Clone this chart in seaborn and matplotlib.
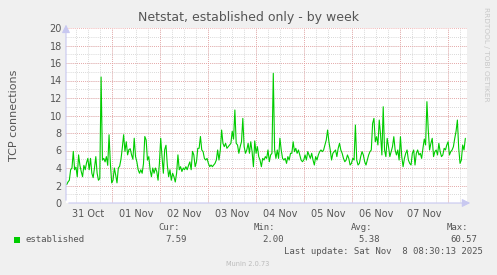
import matplotlib
matplotlib.use("Agg")
import matplotlib.pyplot as plt
import matplotlib.dates as mdates
import seaborn as sns
import pandas as pd
import numpy as np

# ---------------- data ----------------
title = "Netstat, established only - by week"
ylabel = "TCP connections"
series_name = "established"
start_time = "2025-10-31 01:20"
end_time = "2025-11-08 08:40"
view_start = "2025-10-31 01:00"
view_end = "2025-11-08 09:30"
day_labels = ["31 Oct", "01 Nov", "02 Nov", "03 Nov", "04 Nov", "05 Nov", "06 Nov", "07 Nov"]
y_ticks = [0, 2, 4, 6, 8, 10, 12, 14, 16, 18, 20]
stat_names = ["Cur:", "Min:", "Avg:", "Max:"]
stat_values = ["7.59", "2.00", "5.38", "60.57"]
last_update = "Last update: Sat Nov  8 08:30:13 2025"
footer = "Munin 2.0.73"
side_text = "RRDTOOL / TOBI OETIKER"

established = [
    # 31 Oct
    2.1, 2.4, 2.6, 3.8, 4.0, 5.9, 3.8, 4.1, 3.0, 5.5, 4.3, 3.6, 3.0, 4.3, 3.8, 4.6, 5.1, 3.8, 5.1, 3.4,
    2.9, 4.0, 5.3, 3.4, 2.6, 2.8, 14.4, 4.9, 5.1, 4.7, 5.3, 4.3, 7.8, 4.5, 2.3, 2.6, 4.0, 3.2, 2.3, 4.0,
    4.2, 5.0, 6.3, 7.8, 5.9, 7.0, 5.5, 6.1, 6.2, 5.5,
    # 01 Nov
    5.0, 7.4, 5.3, 4.7, 3.8, 3.4, 3.8, 3.4, 4.5, 7.6, 7.2, 4.9, 5.3, 3.8, 3.0, 4.0, 3.4, 4.0, 3.6, 2.6,
    4.5, 7.4, 5.3, 3.4, 6.1, 6.6, 4.3, 3.0, 3.8, 2.6, 3.4, 3.0, 2.4, 3.4, 5.5, 3.8, 4.15, 3.6, 4.0, 3.8,
    4.15, 3.8, 4.3, 4.7, 3.8, 5.9, 5.5, 4.15, 4.7, 6.25,
    # 02-03 Nov
    6.25, 7.6, 6.06, 5.87, 5.1, 4.91, 5.1, 4.53, 4.15, 4.34, 4.15, 4.34, 4.53, 4.91, 6.06, 4.91, 6.06, 8.34,
    6.82, 6.44, 6.82, 6.25, 6.44, 6.63, 6.82, 8.2, 7.3, 10.63, 6.82, 6.63, 5.68, 6.44, 7.0, 9.67, 6.44, 5.68,
    6.06, 6.82, 5.68, 7.0, 5.87, 4.15, 7.1, 5.68, 6.44, 5.3, 4.91, 4.15, 5.1, 4.91, 5.3,
    # 04 Nov
    5.1, 6.06, 4.72, 5.49, 5.68, 14.82, 6.06, 5.1, 6.06, 5.1, 7.4, 6.06, 5.1, 4.91, 5.1, 4.53, 5.3, 4.91,
    5.68, 5.68, 7.0, 5.87, 6.25, 5.68, 6.06, 5.49, 4.91, 4.72, 4.91, 5.49, 4.91, 5.87, 5.49, 5.1, 5.68, 4.91,
    4.34, 5.3, 4.91, 5.49, 5.87, 6.06, 5.87, 6.06, 6.63, 7.2, 8.34, 7.0, 6.06, 4.91, 5.68, 5.87, 6.06,
    # 05-06 Nov
    5.3, 6.25, 6.82, 6.06, 5.68, 5.1, 4.72, 4.91, 5.49, 5.1, 4.34, 4.53, 5.1, 4.91, 8.91, 4.91, 4.34, 4.53,
    5.3, 5.87, 5.49, 4.72, 4.34, 4.91, 5.49, 5.87, 6.06, 9.1, 9.67, 7.0, 7.58, 6.63, 9.48, 7.77, 5.49, 11.0,
    6.06, 5.3, 7.39, 6.44, 5.3, 5.87, 6.44, 7.58, 6.06, 5.49, 6.06, 4.91, 7.58, 5.3, 4.15,
    # 07-08 Nov
    5.1, 5.68, 6.06, 4.91, 4.53, 4.34, 5.68, 6.06, 4.34, 5.68, 6.06, 5.49, 5.68, 5.1, 6.25, 7.3, 6.63, 11.58,
    8.34, 6.06, 6.82, 7.39, 5.3, 5.87, 6.06, 5.49, 6.82, 5.87, 5.3, 5.49, 6.25, 6.06, 6.63, 7.0, 5.49, 5.87,
    6.06, 6.44, 7.39, 8.2, 9.48, 6.25, 4.53, 4.91, 6.63, 6.06, 7.39,
]

# ---------------- figure ----------------
sns.set_theme(style="white")
plt.rcParams["font.family"] = ["DejaVu Sans"]

BG = "#F0F0F0"
GREEN = "#00CC00"
TXT = "#555555"

fig = plt.figure(figsize=(4.97, 2.75), dpi=100, facecolor=BG)
ax = fig.add_axes([66 / 497, 72 / 275, 401 / 497, 175 / 275])
ax.set_facecolor("white")

times = pd.date_range(start_time, end_time, periods=len(established))
df = pd.DataFrame({"time": times, "value": established})

t0, t1 = pd.Timestamp(view_start), pd.Timestamp(view_end)
ax.set_xlim(t0, t1)
ax.set_ylim(0, 20)

# grid lines
grid_kw = dict(linestyle=(0, (1, 1.5)), linewidth=0.6, zorder=0)
for t in pd.date_range(t0.ceil("6h"), t1, freq="6h"):
    ax.axvline(t, color="#cccccc", **grid_kw)
for y in np.arange(1, 20, 1):
    ax.axhline(y, color="#cccccc", **grid_kw)
for t in pd.date_range(t0.ceil("D"), t1, freq="D"):
    ax.axvline(t, color="#eb9a9a", **grid_kw)
for y in y_ticks[1:]:
    ax.axhline(y, color="#eb9a9a", **grid_kw)

sns.lineplot(data=df, x="time", y="value", ax=ax, color=GREEN, linewidth=0.8, zorder=3)

# ticks
noon = pd.date_range(pd.Timestamp(start_time).normalize() + pd.Timedelta(hours=12),
                     periods=len(day_labels), freq="D")
ax.set_xticks(noon)
ax.set_xticklabels(day_labels)
ax.set_yticks(y_ticks)
ax.set_yticklabels([str(v) for v in y_ticks])
ax.tick_params(axis="both", length=0, labelsize=7, colors=TXT, pad=4)
ax.tick_params(axis="y", pad=3)
ax.set_xlabel("")
ax.set_ylabel(ylabel, fontsize=8, color=TXT)
ax.yaxis.set_label_coords(-0.118, 0.5)

for s in ax.spines.values():
    s.set_visible(False)

# axis lines with arrows (munin style)
axis_col = "#c8c8f0"
ax.annotate("", xy=(0, 1.035), xytext=(0, 0), xycoords="axes fraction",
            arrowprops=dict(arrowstyle="-|>,head_length=0.4,head_width=0.2", color=axis_col, lw=0.8),
            annotation_clip=False, zorder=5)
ax.annotate("", xy=(1.015, 0), xytext=(0, 0), xycoords="axes fraction",
            arrowprops=dict(arrowstyle="-|>,head_length=0.4,head_width=0.2", color=axis_col, lw=0.8),
            annotation_clip=False, zorder=5)

# title
fig.text(0.5, 1 - 18 / 275, title, ha="center", va="center", fontsize=9, color=TXT)

# side text
fig.text(486 / 497, 1 - 54 / 275, side_text, ha="center", va="center", rotation=270,
         fontsize=5.3, color="#c8c8c8")

# legend
mono = "DejaVu Sans Mono"
fig.patches.append(plt.Rectangle((14 / 497, 1 - 243 / 275), 6 / 497, 6 / 275,
                                 transform=fig.transFigure, facecolor=GREEN, edgecolor="none"))
fig.text(26 / 497, 1 - 240 / 275, series_name, ha="left", va="center", family=mono,
         fontsize=6.5, color=TXT)
name_x = [158, 254, 351, 447]
val_x = [187, 284, 380, 477]
for nm, nx, val, vx in zip(stat_names, name_x, stat_values, val_x):
    fig.text(nx / 497, 1 - 228 / 275, nm, ha="left", va="center", family=mono,
             fontsize=6.5, color=TXT)
    fig.text(vx / 497, 1 - 240 / 275, val, ha="right", va="center", family=mono,
             fontsize=6.5, color=TXT)
fig.text(483 / 497, 1 - 252 / 275, last_update, ha="right", va="center", family=mono,
         fontsize=6.5, color=TXT)
fig.text(248 / 497, 1 - 264 / 275, footer, ha="center", va="center", fontsize=4.8,
         color="#bbbbbb")

fig.savefig("out.png", dpi=100, facecolor=BG)
